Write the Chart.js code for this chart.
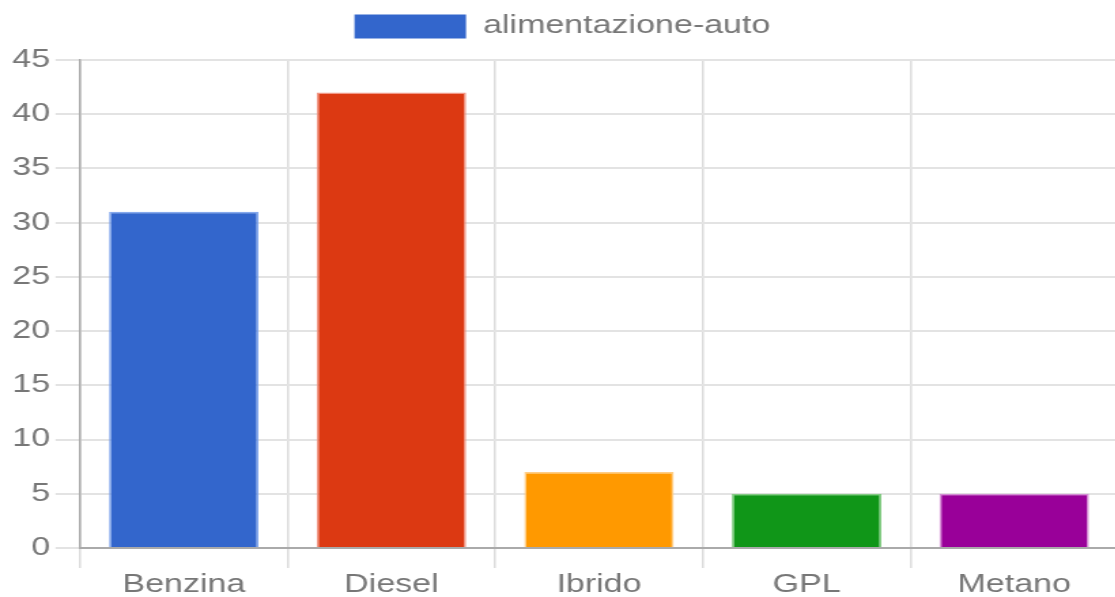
<!DOCTYPE html>
<html>
<head>
<meta charset="utf-8">
<script src="https://cdn.jsdelivr.net/npm/chart.js@4/dist/chart.umd.min.js"></script>
<style>
html,body{margin:0;padding:0;background:#fff;overflow:hidden;}
#wrap{width:1115px;height:597px;overflow:hidden;position:relative;}
#c{position:absolute;left:0;top:0;width:1118px !important;height:602px !important;}
</style>
</head>
<body>
<div id="wrap"><canvas id="c" width="822" height="602"></canvas></div>
<script>
const categories = ["Benzina", "Diesel", "Ibrido", "GPL", "Metano"];
const seriesLabel = "alimentazione-auto";
const values = [31, 42, 7, 5, 5];
const fillColors = ["#3366CC", "#DC3912", "#FF9900", "#109618", "#990099"];
const borderColors = ["rgba(120,160,235,0.9)", "rgba(240,140,120,0.9)", "rgba(255,200,120,0.9)", "rgba(120,200,120,0.9)", "rgba(210,130,210,0.9)"];

Chart.defaults.font.family = "'Liberation Sans', Arial, sans-serif";
Chart.defaults.color = "#777";

const legendGap = {
  id: 'legendGap',
  beforeInit(chart) {
    const orig = chart.legend.fit;
    chart.legend.fit = function () {
      orig.bind(chart.legend)();
      this.height += 11;
    };
  }
};

new Chart(document.getElementById('c'), {
  type: 'bar',
  data: {
    labels: categories,
    datasets: [{
      label: seriesLabel,
      data: values,
      backgroundColor: fillColors,
      borderColor: borderColors,
      borderWidth: 1.5
    }]
  },
  options: {
    responsive: false,
    animation: false,
    layout: { padding: { left: 5, right: 0, top: 4, bottom: 0 } },
    plugins: {
      legend: {
        labels: {
          font: { size: 25 },
          boxWidth: 82,
          boxHeight: 24,
          padding: 10,
          generateLabels: (chart) => [{
            text: seriesLabel,
            fillStyle: fillColors[0],
            strokeStyle: fillColors[0],
            lineWidth: 0,
            datasetIndex: 0,
            fontColor: '#777'
          }]
        }
      },
      tooltip: { enabled: false }
    },
    scales: {
      x: {
        grid: { color: '#dcdcdc', lineWidth: 1.5, tickLength: 20 },
        border: { color: '#aaa', width: 2 },
        ticks: { font: { size: 25 }, padding: 2 }
      },
      y: {
        min: 0, max: 45,
        grid: { color: '#e3e3e3', lineWidth: 2, tickLength: 18 },
        border: { color: '#aaa', width: 1.5 },
        ticks: { stepSize: 5, font: { size: 25 }, padding: 4 }
      }
    }
  },
  plugins: [legendGap]
});
</script>
</body>
</html>
